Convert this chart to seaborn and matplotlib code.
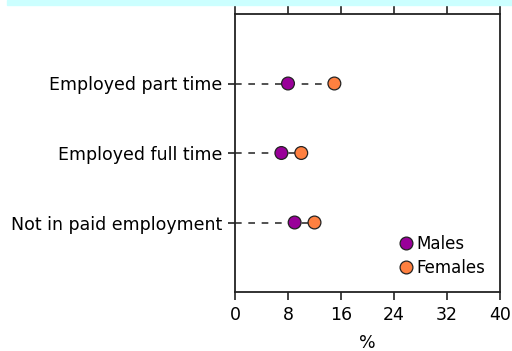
import pandas as pd
import seaborn as sns
import matplotlib.pyplot as plt
from matplotlib.patches import Rectangle

categories = ["Employed part time", "Employed full time", "Not in paid employment"]
males = [8, 7, 9]
females = [15, 10, 12]
xticks = [0, 8, 16, 24, 32, 40]

df = pd.DataFrame({
    "category": categories * 2,
    "value": males + females,
    "sex": ["Males"] * 3 + ["Females"] * 3,
})

sns.set_theme(style="white")
plt.rcParams["font.family"] = ["DejaVu Sans"]
plt.rcParams.update({"text.color": "black", "axes.labelcolor": "black",
                     "xtick.color": "black", "ytick.color": "black"})

fig = plt.figure(figsize=(5.12, 3.51), dpi=100)
fig.patches.append(Rectangle((7 / 512, 1 - 5 / 351), 1, 5 / 351,
                             transform=fig.transFigure, color="#ccffff", zorder=0))
ax = fig.add_axes([235 / 512, 1 - 292 / 351, 265 / 512, 278 / 351])

# dashed guide from 0 to the furthest point
ypos = list(range(len(categories)))
ax.hlines(ypos, 0, [max(m, f) for m, f in zip(males, females)],
          colors="#333333", linestyles=(0, (4, 4)), linewidth=1.2, zorder=1)

sns.scatterplot(data=df, x="value", y="category", hue="sex",
                palette={"Males": "#990099", "Females": "#ff8040"},
                s=85, edgecolor="#222222", linewidth=0.9, ax=ax, zorder=3)

ax.set_xlim(0, 40)
ax.set_ylim(3, -1)
ax.set_xticks(xticks)
ax.set_xlabel("%", fontsize=12.5, labelpad=7)
ax.set_ylabel("")
ax.tick_params(axis="both", labelsize=12.5, length=6, width=1.2, color="#222222",
               direction="out", bottom=True, left=True, top=True)
ax.tick_params(axis="x", top=True, labeltop=False, length=6)
ax.tick_params(axis="y", length=5, pad=4)
ax.tick_params(axis="x", pad=4)
for sp in ax.spines.values():
    sp.set_color("#222222")
    sp.set_linewidth(1.3)

leg = ax.legend(loc="lower right", frameon=False, fontsize=12, handletextpad=0.0,
                markerscale=1.0, borderaxespad=0.5, labelspacing=0.35,
                handlelength=1.2)

fig.savefig("out.png", dpi=100)
